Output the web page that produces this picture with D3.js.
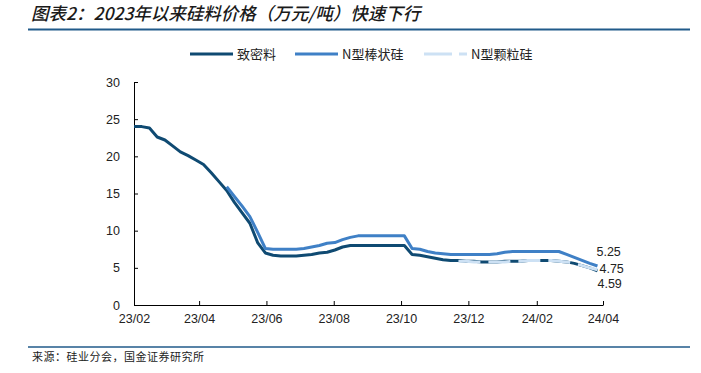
<!DOCTYPE html>
<html>
<head>
<meta charset="utf-8">
<script src="https://cdn.jsdelivr.net/npm/d3@7"></script>
<style>
  body { margin: 0; background: #fff; }
  svg { display: block; font-family: "Liberation Sans", Arial, sans-serif; }
  .axis path, .axis line { stroke: #000; }
  .axis text { fill: #222; font-size: 12.5px; }
</style>
</head>
<body>
<div id="chart"></div>
<script>
// weekly silicon prices, 万元/吨
const dates = [
  "2023-02-01","2023-02-08","2023-02-15","2023-02-22","2023-03-01","2023-03-08","2023-03-15","2023-03-22","2023-03-29",
  "2023-04-05","2023-04-12","2023-04-19","2023-04-26","2023-05-03","2023-05-10","2023-05-17","2023-05-24","2023-05-31",
  "2023-06-07","2023-06-14","2023-06-21","2023-06-28","2023-07-05","2023-07-12","2023-07-19","2023-07-26",
  "2023-08-02","2023-08-09","2023-08-16","2023-08-23","2023-08-30","2023-09-06","2023-09-13","2023-09-20","2023-09-27",
  "2023-10-04","2023-10-11","2023-10-18","2023-10-25","2023-11-01","2023-11-08","2023-11-15","2023-11-22","2023-11-29",
  "2023-12-06","2023-12-13","2023-12-20","2023-12-27","2024-01-03","2024-01-10","2024-01-17","2024-01-24","2024-01-31",
  "2024-02-07","2024-02-14","2024-02-21","2024-02-28","2024-03-06","2024-03-13","2024-03-20","2024-03-27"
];

const dense = [
  24.0,24.0,23.8,22.6,22.2,21.4,20.6,20.1,19.5,
  18.9,17.8,16.6,15.4,13.8,12.4,11.0,8.4,7.0,
  6.7,6.6,6.6,6.6,6.7,6.8,7.0,7.1,
  7.4,7.8,8.0,8.0,8.0,8.0,8.0,8.0,8.0,
  8.0,6.8,6.7,6.5,6.3,6.1,6.0,6.0,5.9,
  5.9,5.8,5.8,5.8,5.9,5.9,5.9,6.0,6.0,
  6.0,6.0,5.9,5.8,5.6,5.3,5.0,4.59
];

const rod = [
  null,null,null,null,null,null,null,null,null,
  null,null,null,15.9,14.6,13.3,11.9,9.8,7.6,
  7.5,7.5,7.5,7.5,7.6,7.8,8.0,8.3,
  8.4,8.8,9.1,9.3,9.3,9.3,9.3,9.3,9.3,
  9.3,7.6,7.5,7.2,7.0,6.9,6.8,6.8,6.8,
  6.8,6.8,6.8,6.9,7.1,7.2,7.2,7.2,7.2,
  7.2,7.2,7.2,6.8,6.4,6.0,5.6,5.25
];

const granular = [
  null,null,null,null,null,null,null,null,null,
  null,null,null,null,null,null,null,null,null,
  null,null,null,null,null,null,null,null,
  null,null,null,null,null,null,null,null,null,
  null,null,null,null,null,null,null,5.9,5.9,
  5.8,5.8,5.8,5.8,5.8,5.9,5.9,6.0,6.0,
  6.0,6.0,5.9,5.8,5.6,5.3,5.0,4.75
];

const seriesNames = ["致密料", "N型棒状硅", "N型颗粒硅"];
const yTicks = [0, 5, 10, 15, 20, 25, 30];

const W = 701, H = 373;
const parse = d3.timeParse("%Y-%m-%d");
const dt = dates.map(parse);

const svg = d3.select("#chart").append("svg")
  .attr("width", W).attr("height", H);

svg.append("rect").attr("width", W).attr("height", H).attr("fill", "#fff");

// title + rules
svg.append("text")
  .attr("x", 31).attr("y", 20)
  .style("font-family", "'Noto Sans CJK SC', sans-serif")
  .style("font-style", "italic")
  .style("font-weight", 500)
  .style("font-size", "17.5px")
  .attr("fill", "#1a1a1a")
  .text("图表2：2023年以来硅料价格（万元/吨）快速下行");

svg.append("line").attr("x1", 28).attr("x2", 690).attr("y1", 29.5).attr("y2", 29.5)
  .attr("stroke", "#215a8a").attr("stroke-width", 2);
svg.append("line").attr("x1", 28).attr("x2", 690).attr("y1", 347).attr("y2", 347)
  .attr("stroke", "#215a8a").attr("stroke-width", 1.5);

svg.append("text")
  .attr("x", 32).attr("y", 361)
  .style("font-family", "'Noto Sans CJK SC', sans-serif")
  .style("font-size", "11px")
  .style("letter-spacing", "0.5px")
  .attr("fill", "#222")
  .text("来源：硅业分会，国金证券研究所");

// scales
const x = d3.scaleTime()
  .domain([parse("2023-02-01"), parse("2024-04-01")])
  .range([134, 603]);
const y = d3.scaleLinear().domain([0, 30]).range([305, 82]);

const xAxis = d3.axisBottom(x)
  .tickValues(d3.timeMonth.range(parse("2023-02-01"), parse("2024-04-02"), 2))
  .tickFormat(d3.timeFormat("%y/%m"))
  .tickSize(-4).tickSizeOuter(0).tickPadding(9);

const yAxis = d3.axisLeft(y)
  .tickValues(yTicks)
  .tickSize(-4).tickSizeOuter(0).tickPadding(14);

svg.append("g").attr("class", "axis")
  .attr("transform", "translate(0," + 305 + ")")
  .call(xAxis);

svg.append("g").attr("class", "axis")
  .attr("transform", "translate(" + 134 + ",0)")
  .call(yAxis);

// lines
const colors = ["#0f4a72", "#3f80c6", "#cde1f4"];
const allSeries = [dense, rod, granular];

const line = d3.line()
  .defined(d => d.v != null)
  .x(d => x(d.t))
  .y(d => y(d.v));

allSeries.forEach((s, i) => {
  const pts = s.map((v, j) => ({t: dt[j], v: v}));
  svg.append("path")
    .datum(pts)
    .attr("fill", "none")
    .attr("stroke", colors[i])
    .attr("stroke-width", 3)
    .attr("stroke-linejoin", "round")
    .attr("stroke-dasharray", i == 2 ? "22,8" : null)
    .attr("d", line);
});

// end labels
const last = dt.length - 1;
const endLabels = [
  {v: rod[last], dx: -1, dy: -14},
  {v: granular[last], dx: 2, dy: -1},
  {v: dense[last], dx: 0, dy: 13}
];
endLabels.forEach(l => {
  svg.append("text")
    .attr("x", x(dt[last]) + l.dx)
    .attr("y", y(l.v) + l.dy)
    .attr("dy", "0.35em")
    .style("font-size", "12.5px")
    .attr("fill", "#222")
    .text(l.v.toFixed(2));
});

// legend
const legendX = [190, 295, 424];
seriesNames.forEach((name, i) => {
  const g = svg.append("g").attr("transform", "translate(" + legendX[i] + ",54)");
  g.append("line")
    .attr("x1", 0).attr("x2", 43)
    .attr("stroke", colors[i]).attr("stroke-width", 3)
    .attr("stroke-dasharray", i == 2 ? "28,7" : null);
  g.append("text")
    .attr("x", 47).attr("dy", "0.35em")
    .style("font-family", "'Noto Sans CJK SC', sans-serif")
    .style("font-size", "13px")
    .attr("fill", "#222")
    .text(name);
});
</script>
</body>
</html>
